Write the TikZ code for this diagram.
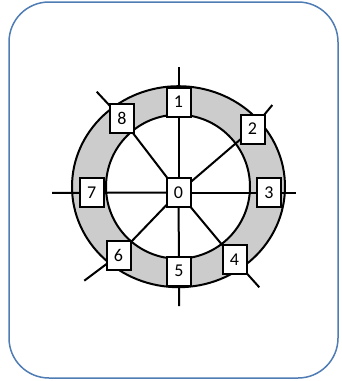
\documentclass[tikz,border=0pt]{standalone}
\usepackage{fontspec}
\setmainfont{Carlito}
\usetikzlibrary{backgrounds}
\definecolor{frameblue}{RGB}{79,124,180}
\definecolor{ringgray}{RGB}{204,204,204}
\begin{document}
\begin{tikzpicture}[x=1pt,y=-1pt,
  numbox/.style={draw=black, fill=white, line width=2pt, minimum width=24pt, minimum height=29pt, inner sep=0pt, font=\fontsize{18}{18}\selectfont},
  spoke/.style={line width=2pt, draw=black},
  ringline/.style={line width=2pt, draw=black}]
\useasboundingbox (0,0) rectangle (341,381);
% boxes
\node[numbox] (n0) at (178.5,192.5) {0};
\node[numbox] (n1) at (178.5,102) {1};
\node[numbox] (n2) at (252.5,129) {2};
\node[numbox] (n3) at (269,192.5) {3};
\node[numbox] (n4) at (234.5,259.7) {4};
\node[numbox] (n5) at (179,271) {5};
\node[numbox] (n6) at (118.5,255) {6};
\node[numbox] (n7) at (91.7,192.8) {7};
\node[numbox] (n8) at (122,118.8) {8};
% free ends
\coordinate (e1) at (178.5,66.5);
\coordinate (e2) at (272.3,105);
\coordinate (e3) at (296,192.5);
\coordinate (e4) at (259.3,287.3);
\coordinate (e5) at (179,306);
\coordinate (e6) at (84.3,280.7);
\coordinate (e7) at (52,192.8);
\coordinate (e8) at (96.7,91.7);
\begin{pgfonlayer}{background}
  % frame
  \draw[frameblue, line width=1.5pt, rounded corners=40pt] (9,2) rectangle (338,378);
  % ring
  \fill[ringgray, even odd rule] (178.5,186.7) ellipse [x radius=106.5pt, y radius=100.5pt]
    (178,186.7) circle [radius=72pt];
  \draw[ringline] (178.5,186.7) ellipse [x radius=106.5pt, y radius=100.5pt];
  \draw[ringline] (178,186.7) circle [radius=72pt];
  % spokes
  \foreach \i in {1,...,8}{
    \draw[spoke] (n0.center) -- (n\i.center) -- (e\i);
  }
\end{pgfonlayer}
\end{tikzpicture}
\end{document}
